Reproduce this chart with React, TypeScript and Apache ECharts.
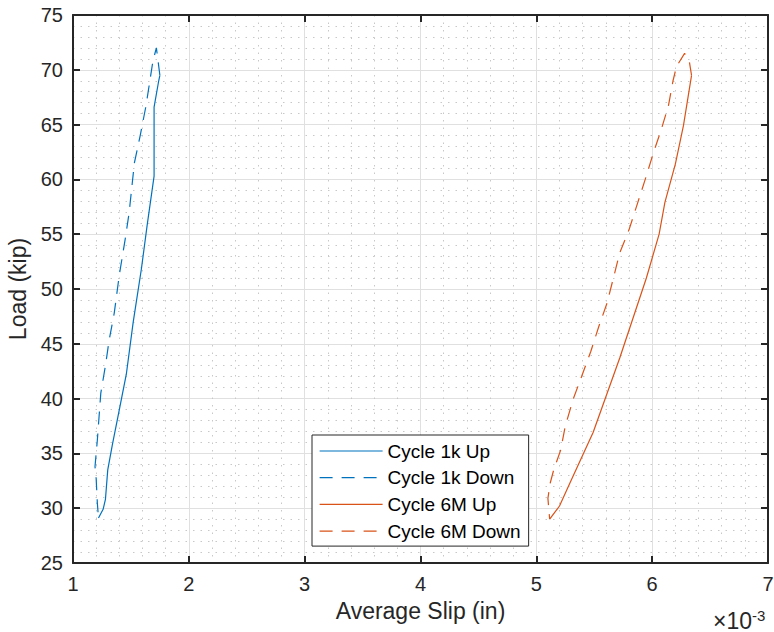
import React, { useEffect, useRef } from "react";
import * as echarts from "echarts";

// Average slip in units of 1e-3 in, load in kip
const cycle1kUp: [number, number][] = [
  [1.22, 29.1], [1.26, 29.9], [1.28, 30.8], [1.3, 33.5], [1.34, 35.8], [1.4, 39.0],
  [1.46, 42.2], [1.52, 47.0], [1.59, 51.8], [1.64, 55.8], [1.7, 60.3], [1.7, 66.6],
  [1.74, 69.0], [1.75, 69.5],
];
const cycle1kDown: [number, number][] = [
  [1.75, 69.5], [1.72, 72.0], [1.69, 70.8], [1.63, 66.7], [1.58, 64.0], [1.53, 61.5],
  [1.485, 57.0], [1.45, 54.5], [1.4, 51.3], [1.356, 47.8], [1.313, 45.4], [1.28, 43.0],
  [1.24, 40.5], [1.21, 36.2], [1.19, 33.8], [1.2, 32.7], [1.21, 30.5], [1.22, 29.1],
];
const cycle6MUp: [number, number][] = [
  [5.115, 29.0], [5.2, 30.2], [5.29, 32.3], [5.49, 36.9], [5.72, 43.7], [5.95, 51.0],
  [6.06, 55.0], [6.11, 57.9], [6.2, 61.4], [6.27, 64.9], [6.34, 69.5],
];
const cycle6MDown: [number, number][] = [
  [6.34, 69.5], [6.32, 70.8], [6.28, 71.5], [6.21, 70.3], [6.18, 69.0], [6.14, 66.7],
  [6.08, 64.6], [6.01, 62.4], [5.94, 60.0], [5.87, 57.7], [5.8, 55.4], [5.72, 53.3],
  [5.67, 51.2], [5.61, 48.7], [5.54, 46.6], [5.47, 44.3], [5.39, 42.0], [5.32, 40.0],
  [5.25, 37.5], [5.21, 35.3], [5.15, 33.5], [5.12, 32.3], [5.1, 30.9], [5.115, 29.0],
];

const seriesNames = ["Cycle 1k Up", "Cycle 1k Down", "Cycle 6M Up", "Cycle 6M Down"];
const xLabel = "Average Slip (in)";
const yLabel = "Load (kip)";
const xExponentBase = "×10";
const xExponent = "-3";
const xRange = { min: 1, max: 7, interval: 1 };
const yRange = { min: 25, max: 75, interval: 5 };

const BLUE = "#0072BD";
const ORANGE = "#D95319";
const AX = "#262626";
const FONT = "'Liberation Sans', Arial, Helvetica, sans-serif";

export default function App() {
  const ref = useRef<HTMLDivElement>(null);
  useEffect(() => {
    if (!ref.current) return;
    const chart = echarts.init(ref.current, undefined, { renderer: "svg" });
    const mainAxisCommon = {
      axisLine: { show: true, onZero: false, lineStyle: { color: AX, width: 2 } },
      axisTick: { show: true, inside: true, length: 7, lineStyle: { color: AX, width: 2 } },
      splitLine: { show: true, lineStyle: { color: "#e0e0e0", width: 1 } },
      minorTick: { show: false, splitNumber: 5 },
      minorSplitLine: { show: true, lineStyle: { color: "#c8c8c8", width: 1, type: [1.5, 6] } },
    };
    const mirrorCommon = {
      axisLine: { show: true, onZero: false, lineStyle: { color: AX, width: 2 } },
      axisTick: { show: true, inside: true, length: 7, lineStyle: { color: AX, width: 2 } },
      axisLabel: { show: false },
      splitLine: { show: false },
    };
    const dash = [13, 9];
    const mk = (name: string, data: [number, number][], color: string, dashed: boolean) => ({
      name,
      type: "line",
      data,
      xAxisIndex: 0,
      yAxisIndex: 0,
      showSymbol: false,
      symbol: "none",
      smooth: false,
      lineStyle: { color, width: 1.2, type: dashed ? dash : "solid" },
      itemStyle: { color },
      z: 5,
    });
    chart.setOption({
      animation: false,
      textStyle: { fontFamily: FONT },
      grid: {
        left: 73,
        right: 6,
        top: 15,
        bottom: 69,
        containLabel: false,
        outerBoundsMode: "none",
      },
      title: [
        {
          text: xExponentBase,
          left: 713,
          top: 609,
          padding: 0,
          textStyle: { color: AX, fontSize: 23, fontWeight: "normal", fontFamily: FONT },
        },
        {
          text: xExponent,
          left: 752,
          top: 608,
          padding: 0,
          textStyle: { color: AX, fontSize: 15, fontWeight: "normal", fontFamily: FONT },
        },
      ],
      xAxis: [
        {
          type: "value",
          ...xRange,
          position: "bottom",
          ...mainAxisCommon,
          axisLabel: { show: true, color: AX, fontSize: 20, margin: 11, fontFamily: FONT },
          name: xLabel,
          nameLocation: "middle",
          nameGap: 36,
          nameTextStyle: { color: AX, fontSize: 23, fontFamily: FONT },
        },
        { type: "value", ...xRange, position: "top", ...mirrorCommon },
      ],
      yAxis: [
        {
          type: "value",
          ...yRange,
          position: "left",
          ...mainAxisCommon,
          axisLabel: { show: true, color: AX, fontSize: 20, margin: 10, fontFamily: FONT },
          name: yLabel,
          nameLocation: "middle",
          nameGap: 43,
          nameTextStyle: { color: AX, fontSize: 23, fontFamily: FONT },
        },
        { type: "value", ...yRange, position: "right", ...mirrorCommon },
      ],
      legend: {
        show: true,
        orient: "vertical",
        left: 312,
        top: 435,
        data: seriesNames,
        backgroundColor: "#ffffff",
        borderColor: AX,
        borderWidth: 1,
        borderRadius: 0,
        padding: [6, 8, 5, 7],
        itemWidth: 63,
        itemHeight: 20,
        itemGap: 6.7,
        itemStyle: { opacity: 0, borderWidth: 0 },
        lineStyle: { width: 1.2 },
        textStyle: { color: "#000", fontSize: 19, fontFamily: FONT, lineHeight: 20 },
      },
      series: [
        mk(seriesNames[0], cycle1kUp, BLUE, false),
        mk(seriesNames[1], cycle1kDown, BLUE, true),
        mk(seriesNames[2], cycle6MUp, ORANGE, false),
        mk(seriesNames[3], cycle6MDown, ORANGE, true),
      ],
    });
    return () => chart.dispose();
  }, []);
  return (
    <div
      ref={ref}
      style={{ position: "fixed", left: 0, top: 0, width: 774, height: 632, background: "#fff" }}
    />
  );
}
